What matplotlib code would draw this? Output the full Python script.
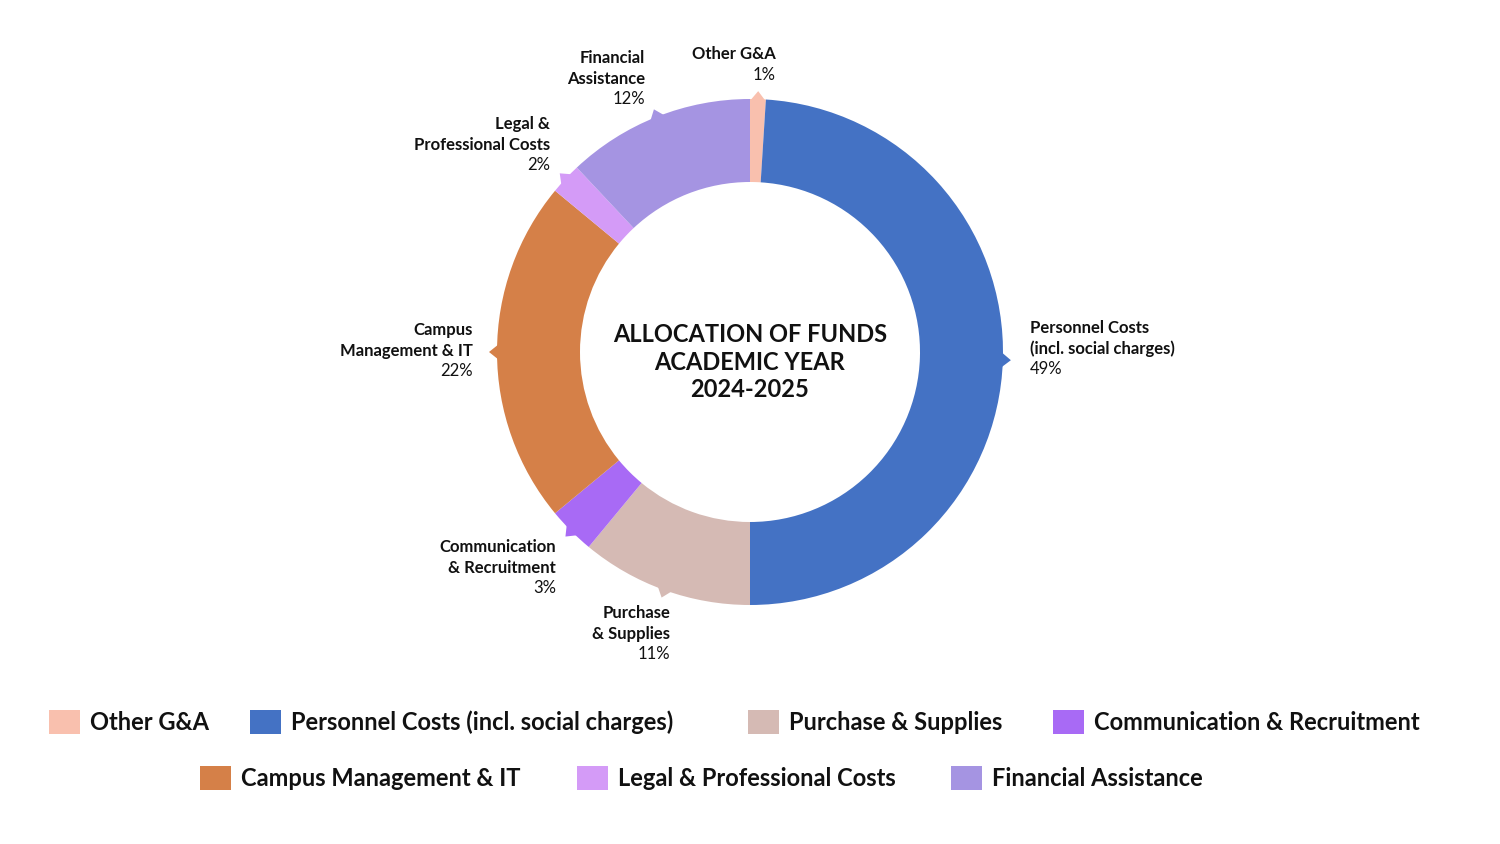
import matplotlib
matplotlib.use("Agg")
import matplotlib.pyplot as plt
import numpy as np

categories = ["Other G&A", "Personnel Costs (incl. social charges)", "Purchase & Supplies",
              "Communication & Recruitment", "Campus Management & IT",
              "Legal & Professional Costs", "Financial Assistance"]
values = [1, 49, 11, 3, 22, 2, 12]
colors = ["#F9C0AE", "#4472C4", "#D5BAB4", "#A86AF5", "#D58048", "#D49BF7", "#A594E2"]
slice_labels = ["Other G&A", "Personnel Costs\n(incl. social charges)", "Purchase\n& Supplies",
                "Communication\n& Recruitment", "Campus\nManagement & IT",
                "Legal &\nProfessional Costs", "Financial\nAssistance"]
# label anchor (x, top y in pixels, alignment)
label_pos = [(776, 46, "right"), (1030, 320, "left"), (670, 605, "right"),
             (556, 539, "right"), (473, 322, "right"), (550, 116, "right"), (645, 50, "right")]

plt.rcParams['font.family'] = ['Lato', 'DejaVu Sans']
W, H = 1500, 844
fig = plt.figure(figsize=(15, 8.44), dpi=100)
ax = fig.add_axes([0, 0, 1, 1])
ax.set_xlim(0, W); ax.set_ylim(0, H); ax.set_aspect('equal'); ax.axis('off')

cx, cy = 750, H - 352
R, r = 253, 170
wedges, _ = ax.pie(values, colors=colors, startangle=90, counterclock=False,
                   radius=R, center=(cx, cy), wedgeprops=dict(width=R - r, linewidth=0),
                   frame=True)
ax.set_xlim(0, W); ax.set_ylim(0, H); ax.axis('off')

for w, c in zip(wedges, colors):
    a = np.deg2rad((w.theta1 + w.theta2) / 2)
    d = np.array([np.cos(a), np.sin(a)]); p = np.array([-d[1], d[0]])
    base = np.array([cx, cy]) + d * (R - 2)
    tri = [base + p * 8, base - p * 8, base + d * 10]
    ax.add_patch(plt.Polygon(tri, color=c, lw=0))

for lab, v, (x, y, ha) in zip(slice_labels, values, label_pos):
    ax.text(x, H - y, lab, ha=ha, va='top', fontsize=12, fontweight='bold', color='#111111',
            linespacing=1.35)
    nl = lab.count("\n") + 1
    ax.text(x, H - y - 20.5 * nl, f"{v}%", ha=ha, va='top', fontsize=12, color='#111111')

ax.text(cx, cy - 10, "ALLOCATION OF FUNDS\nACADEMIC YEAR\n2024-2025", ha='center', va='center',
        fontsize=17, fontweight='bold', color='#111111', linespacing=1.25)

legend_pos = [(49, 722), (250, 722), (748, 722), (1053, 722), (200, 778), (577, 778), (951, 778)]
for (x, y), lab, c in zip(legend_pos, categories, colors):
    ax.add_patch(plt.Rectangle((x, H - y - 12), 31, 24, color=c, lw=0))
    ax.text(x + 41, H - y, lab, ha='left', va='center', fontsize=17, fontweight='bold', color='#111111')

fig.savefig("out.png", dpi=100)
